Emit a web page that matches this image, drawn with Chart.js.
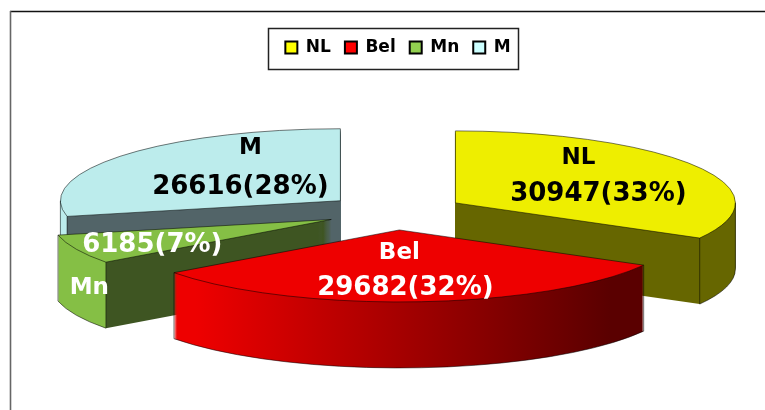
<!DOCTYPE html>
<html>
<head>
<meta charset="utf-8">
<style>
  html, body { margin: 0; padding: 0; background: #fff; overflow: hidden; }
  canvas { display: block; }
</style>
<script src="https://cdn.jsdelivr.net/npm/chart.js@4"></script>
</head>
<body>
<canvas id="pie3d" width="765" height="410"></canvas>
<script>
const categories = ['NL', 'Bel', 'Mn', 'M'];
const counts = [30947, 29682, 6185, 26616];
const percents = ['33%', '32%', '7%', '28%'];

const legendColors = ['#FFFF00', '#FF0000', '#92D050', '#CCFFFF'];
const topColors = ['#EEEE00', '#EE0000', '#85BF45', '#BCECEC'];
const outerWallColors = ['#666600', null, '#85BF45', '#BCECEC'];
const innerWallColors = ['#666600', null, '#3E5522', '#526468'];
const textColors = ['#000', '#fff', '#fff', '#000'];

// look of the tilted, exploded pie on the page
const pieView = { cx: 395, cy: 212, rx: 280, ry: 72, depth: 66, explode: 0.25 };
const drawOrder = [3, 0, 2, 1];   // back to front

// text placement, relative to each slice's tip
const nameNudge = [[123, -45], [0, 23], [-242, 69], [-90, -53]];
const valueNudge = [[143, -9], [6, 58], [-179, 26], [-100, -13]];

function sliceGeometry(el) {
    const mid = (el.startAngle + el.endAngle) / 2;
    return {
        sx: pieView.rx / el.outerRadius,
        sy: pieView.ry / el.outerRadius,
        tipX: pieView.cx + Math.cos(mid) * pieView.explode * pieView.rx,
        tipY: pieView.cy + Math.sin(mid) * pieView.explode * pieView.ry
    };
}

function drawArc(ctx, el, geo, dy, fill) {
    const saved = el.options;
    ctx.save();
    ctx.translate(geo.tipX, geo.tipY + dy);
    ctx.scale(geo.sx, geo.sy);
    ctx.translate(-el.x, -el.y);
    el.options = Object.assign({}, saved, { backgroundColor: fill, borderWidth: 0 });
    el.draw(ctx);
    el.options = saved;
    ctx.restore();
}

function wallFill(ctx, el, geo, i) {
    // gradient is read under the slice transform, so go back to chart units
    const toChart = x => el.x + (x - geo.tipX) / geo.sx;
    const g = ctx.createLinearGradient(toChart(0), 0, toChart(765), 0);
    if (i === 1) {
        const left = 173 / 765, right = 610 / 765;
        g.addColorStop(0, '#EE0000');
        g.addColorStop(left + 0.03, '#EE0000');
        g.addColorStop(right, '#5A0000');
        g.addColorStop(1, '#5A0000');
        return g;
    }
    // outer wall and radial wall meet under the arc end nearest the front
    const ends = [el.startAngle, el.endAngle];
    const front = Math.sin(ends[0]) > Math.sin(ends[1]) ? ends[0] : ends[1];
    const split = (geo.tipX + Math.cos(front) * pieView.rx) / 765;
    if (Math.cos(front) > 0) {
        g.addColorStop(0, innerWallColors[i]);
        g.addColorStop(split, innerWallColors[i]);
        g.addColorStop(split, outerWallColors[i]);
        g.addColorStop(1, outerWallColors[i]);
    } else {
        g.addColorStop(0, outerWallColors[i]);
        g.addColorStop(split, outerWallColors[i]);
        g.addColorStop(split, innerWallColors[i]);
        g.addColorStop(1, innerWallColors[i]);
    }
    return g;
}

function outline(ctx, el, geo) {
    const a0 = el.startAngle, a1 = el.endAngle;
    const px = a => geo.tipX + Math.cos(a) * pieView.rx;
    const py = a => geo.tipY + Math.sin(a) * pieView.ry;
    // only the front half of the lower rim can be seen
    const from = Math.max(a0, 0), to = Math.min(a1, Math.PI);
    ctx.save();
    ctx.strokeStyle = 'rgba(0,0,0,0.65)';
    ctx.lineWidth = 0.8;
    ctx.beginPath();
    ctx.moveTo(geo.tipX, geo.tipY);
    ctx.lineTo(px(a0), py(a0));
    ctx.ellipse(geo.tipX, geo.tipY, pieView.rx, pieView.ry, 0, a0, a1);
    ctx.closePath();
    if (from < to) {
        [from, to].forEach(a => {
            ctx.moveTo(px(a), py(a));
            ctx.lineTo(px(a), py(a) + pieView.depth);
        });
        ctx.moveTo(px(from), py(from) + pieView.depth);
        ctx.ellipse(geo.tipX, geo.tipY + pieView.depth, pieView.rx, pieView.ry, 0, from, to);
    }
    ctx.stroke();
    ctx.restore();
}

const tiltedPie = {
    id: 'tiltedPie',
    beforeDraw(chart) {
        const ctx = chart.ctx;
        ctx.save();
        ctx.fillStyle = '#fff';
        ctx.fillRect(0, 0, 765, 410);
        ctx.strokeStyle = '#111';
        ctx.lineWidth = 1.6;
        ctx.beginPath();
        ctx.moveTo(10, 11.5);
        ctx.lineTo(765, 11.5);
        ctx.stroke();
        ctx.strokeStyle = '#666';
        ctx.beginPath();
        ctx.moveTo(10.5, 11);
        ctx.lineTo(10.5, 410);
        ctx.stroke();
        ctx.restore();
    },
    beforeDatasetsDraw(chart) {
        const ctx = chart.ctx;
        const arcs = chart.getDatasetMeta(0).data;
        drawOrder.forEach(i => {
            const el = arcs[i];
            const geo = sliceGeometry(el);
            const wall = wallFill(ctx, el, geo, i);
            for (let dy = pieView.depth; dy > 0; dy--) {
                drawArc(ctx, el, geo, dy, wall);
            }
            drawArc(ctx, el, geo, 0, topColors[i]);
            outline(ctx, el, geo);
        });
        arcs.forEach((el, i) => {
            const geo = sliceGeometry(el);
            ctx.save();
            ctx.fillStyle = textColors[i];
            ctx.textAlign = 'center';
            ctx.textBaseline = 'middle';
            ctx.font = 'bold 23px "DejaVu Sans"';
            ctx.fillText(categories[i], geo.tipX + nameNudge[i][0], geo.tipY + nameNudge[i][1]);
            ctx.font = 'bold 26px "DejaVu Sans"';
            ctx.fillText(counts[i] + '(' + percents[i] + ')', geo.tipX + valueNudge[i][0], geo.tipY + valueNudge[i][1]);
            ctx.restore();
        });
        return false;
    },
    afterDraw(chart) {
        // frame around the legend items
        const first = chart.legend.legendHitBoxes[0];
        const ctx = chart.ctx;
        ctx.save();
        ctx.strokeStyle = '#222';
        ctx.lineWidth = 1.5;
        ctx.strokeRect(268.5, first.top + first.height / 2 - 19, 250, 41);
        ctx.restore();
    }
};

new Chart(document.getElementById('pie3d').getContext('2d'), {
    type: 'pie',
    data: {
        labels: categories,
        datasets: [{
            data: counts,
            backgroundColor: topColors,
            borderWidth: 0
        }]
    },
    options: {
        responsive: false,
        animation: false,
        layout: { padding: { top: 25, left: 31, right: 0, bottom: 0 } },
        plugins: {
            tooltip: { enabled: false },
            legend: {
                position: 'top',
                labels: {
                    boxWidth: 12,
                    boxHeight: 12,
                    padding: 14,
                    color: '#000',
                    font: { family: '"DejaVu Sans"', size: 17, weight: 'bold' },
                    generateLabels: () => categories.map((name, i) => ({
                        text: name,
                        fillStyle: legendColors[i],
                        strokeStyle: '#000',
                        lineWidth: 2,
                        index: i
                    }))
                }
            }
        }
    },
    plugins: [tiltedPie]
});
</script>
</body>
</html>
